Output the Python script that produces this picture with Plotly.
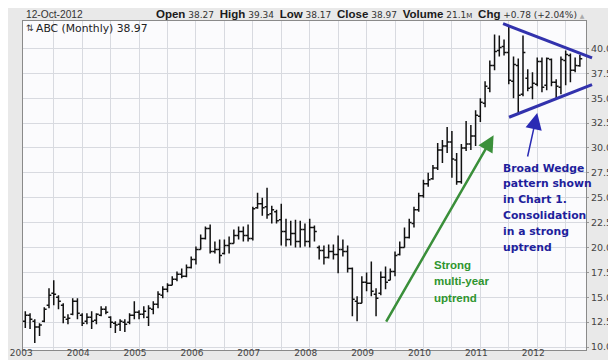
import plotly.graph_objects as go

# ---------------- data ----------------
years = [str(y) for y in range(2003, 2013)]
months = [f"{2003 + m // 12}-{m % 12 + 1:02d}" for m in range(118)]

opens = [12.6, 13.2, 12.6, 12.0, 12.6, 14.2, 15.4, 15.0, 14.2, 12.8, 13.3, 14.6,
         13.2, 12.6, 13.0, 12.7, 13.2, 13.8, 13.0, 12.4, 12.3, 12.5, 12.5, 13.2,
         13.5, 13.3, 13.0, 13.8, 14.3, 15.2, 15.8, 16.2, 16.8, 17.3, 17.1, 18.0,
         18.8, 19.8, 20.9, 21.9, 19.6, 19.8, 19.4, 20.2, 20.4, 21.2, 21.6, 21.2,
         20.9, 24.0, 24.4, 24.1, 23.4, 23.6, 22.8, 21.6, 20.8, 21.4, 20.6, 21.8,
         20.6, 22.0, 20.0, 19.7, 19.0, 19.6, 19.3, 19.8, 19.6, 17.9, 14.6, 14.4,
         16.5, 16.4, 15.3, 15.4, 17.0, 16.7, 17.6, 19.3, 20.0, 21.0, 22.4, 23.8,
         25.2, 26.4, 26.9, 28.0, 29.8, 30.2, 30.6, 28.8, 26.6, 30.0, 30.4, 31.2,
         33.2, 34.5, 36.0, 38.3, 39.8, 40.2, 39.6, 36.7, 38.3, 35.4, 37.0, 36.1,
         36.4, 38.7, 36.3, 38.9, 36.6, 36.1, 38.8, 39.3, 37.8, 38.27]
highs = [13.6, 13.4, 12.8, 12.4, 14.0, 15.9, 16.7, 15.2, 14.4, 13.3, 14.9, 14.9,
         13.4, 13.4, 13.6, 13.4, 14.1, 14.1, 13.1, 12.6, 12.8, 12.8, 13.4, 14.6,
         13.7, 14.1, 14.2, 14.6, 15.6, 16.1, 16.4, 17.1, 17.6, 17.9, 18.3, 19.1,
         20.1, 21.3, 22.1, 22.3, 20.6, 20.8, 20.8, 21.1, 21.8, 22.1, 22.1, 22.3,
         24.1, 25.5, 25.0, 26.0, 24.2, 23.8, 24.4, 22.9, 22.7, 22.8, 22.7, 22.4,
         22.9, 22.2, 20.2, 20.2, 20.3, 20.3, 21.2, 20.8, 20.2, 18.0, 15.1, 17.1,
         17.5, 18.6, 15.9, 17.6, 18.1, 17.9, 19.6, 20.6, 22.0, 22.9, 24.1, 25.5,
         26.8, 27.5, 28.3, 30.5, 30.8, 32.1, 31.7, 29.5, 30.4, 32.7, 32.3, 33.8,
         35.0, 36.7, 38.8, 41.4, 41.3, 40.9, 42.3, 39.2, 39.0, 41.3, 37.9, 37.6,
         39.1, 39.1, 39.1, 39.0, 36.9, 39.2, 39.8, 39.5, 39.1, 39.34]
lows = [11.9, 11.8, 10.4, 11.1, 12.5, 13.9, 14.2, 13.8, 12.4, 12.3, 13.2, 12.8,
        12.1, 12.3, 11.8, 12.3, 13.1, 13.3, 11.9, 11.4, 11.6, 11.5, 12.3, 12.8,
        12.8, 12.9, 12.1, 13.3, 13.9, 14.9, 15.5, 16.2, 16.6, 16.9, 17.0, 17.9,
        18.3, 19.8, 20.8, 19.4, 19.4, 18.4, 19.3, 19.4, 20.4, 20.8, 20.6, 20.6,
        20.7, 23.9, 23.2, 22.9, 22.4, 22.4, 20.2, 20.1, 20.2, 20.0, 20.0, 20.1,
        20.0, 20.6, 18.8, 18.3, 18.9, 18.8, 17.4, 19.1, 17.5, 13.1, 12.6, 14.4,
        15.6, 15.1, 13.1, 15.2, 15.8, 16.7, 17.1, 19.2, 20.0, 20.9, 22.0, 23.6,
        25.0, 26.1, 26.8, 27.8, 28.5, 29.5, 27.0, 26.3, 26.4, 29.7, 29.8, 30.2,
        32.6, 34.1, 35.6, 37.8, 39.2, 39.3, 36.4, 35.0, 33.5, 35.2, 35.7, 34.9,
        36.2, 35.6, 35.8, 36.2, 35.0, 35.4, 36.3, 36.6, 37.6, 38.17]
closes = [13.2, 12.8, 12.0, 12.2, 13.8, 15.2, 15.3, 14.6, 13.0, 12.9, 14.6, 13.4,
          12.4, 13.0, 12.6, 13.3, 13.8, 13.5, 12.5, 12.2, 12.6, 12.3, 13.2, 13.5,
          13.3, 13.6, 13.9, 14.3, 15.3, 15.8, 16.2, 16.8, 17.3, 17.1, 18.0, 18.8,
          19.8, 20.9, 21.9, 19.6, 19.8, 19.2, 20.2, 20.4, 21.2, 21.6, 21.2, 20.9,
          23.9, 24.4, 24.0, 23.3, 23.8, 22.7, 21.6, 20.8, 21.4, 20.6, 21.8, 20.6,
          22.0, 21.6, 19.7, 19.0, 19.6, 19.3, 19.8, 19.6, 17.9, 14.8, 14.4, 16.5,
          16.4, 15.6, 14.9, 17.0, 16.5, 17.6, 19.2, 20.0, 21.0, 22.5, 23.8, 25.2,
          26.4, 26.8, 28.0, 29.8, 30.2, 30.6, 28.9, 26.6, 30.0, 30.4, 31.2, 33.3,
          34.6, 36.2, 38.3, 39.7, 40.1, 39.6, 36.8, 38.4, 35.3, 39.6, 36.0, 36.5,
          38.7, 36.1, 39.0, 36.6, 36.2, 38.9, 39.4, 37.8, 38.3, 38.97]

price_ticks = [10.0, 12.5, 15.0, 17.5, 20.0, 22.5, 25.0, 27.5, 30.0, 32.5, 35.0, 37.5, 40.0]

header_date = "12-Oct-2012"
header_labels = ["Open", "High", "Low", "Close", "Volume", "Chg"]
header_values = ["38.27", "39.34", "38.17", "38.97",
                 "21.1<span style='font-size:7px'>M</span>", "+0.78 (+2.04%)"]
legend_text = "ABC (Monthly) 38.97"

# trend-line annotations (month index, price)
wedge_upper = [(100.8, 42.49), (119.56, 39.05)]
wedge_lower = [(102.05, 33.09), (119.56, 36.36)]
green_arrow = [(75.95, 12.41), (98.8, 31.28)]   # tail, head
blue_arrow = [(105.9, 28.99), (108.0, 33.52)]   # tail, head
green_lines = ["Strong", "multi-year", "uptrend"]
blue_lines = ["Broad Wedge", "pattern shown", "in Chart 1.", "Consolidation", "in a strong", "uptrend"]

# ---------------- geometry ----------------
W, H = 616, 360
L, R, T, B = 15, 38, 13, 18
X0, X1 = -0.485, 118.29
Y0, Y1 = 9.70, 42.76
PW, PH = W - L - R, H - T - B
PX_PER_MONTH = PW / (X1 - X0)

def fx(px):
    return (px - L) / PW

def fy(py):
    return (H - B - py) / PH

def dx(i):
    return (i - X0) / (X1 - X0)

def dy(v):
    return (v - Y0) / (Y1 - Y0)

x_idx = list(range(len(months)))

fig = go.Figure()
fig.add_trace(go.Ohlc(
    x=x_idx, open=opens, high=highs, low=lows, close=closes,
    text=months,
    increasing=dict(line=dict(color="#111111", width=1.5)),
    decreasing=dict(line=dict(color="#111111", width=1.5)),
    tickwidth=0.5, showlegend=False, hoverinfo="text+y",
))

year_pos = [12 * k for k in range(len(years))]
grid_pos = list(range(6, 118, 6))

fig.update_layout(
    width=W, height=H,
    margin=dict(l=L, r=R, t=T, b=B, pad=0, autoexpand=False),
    paper_bgcolor="#e9e9e9",
    plot_bgcolor="#fbfbfd",
    font=dict(family="DejaVu Sans", size=9, color="#444"),
    showlegend=False,
    xaxis=dict(
        range=[X0, X1], rangeslider=dict(visible=False),
        tickmode="array", tickvals=year_pos, ticktext=years,
        ticklabelshift=int(round(-0.84 * PX_PER_MONTH)),
        ticklabelstandoff=-6,
        showgrid=False, ticks="", ticklen=0, zeroline=False, automargin=False,
        tickfont=dict(family="DejaVu Sans", size=9, color="#444"),
        showline=True, mirror=True, linecolor="#8a8a8a", linewidth=1,
        minor=dict(tickmode="array", tickvals=grid_pos, showgrid=True,
                   gridcolor="#d8dae0", gridwidth=1, ticks="", ticklen=0),
    ),
    yaxis=dict(
        range=[Y0, Y1], side="right", automargin=False,
        tickmode="array", tickvals=price_ticks,
        ticktext=[f"{v:.1f}" for v in price_ticks],
        showgrid=True, gridcolor="#d8dae0", gridwidth=1, zeroline=False,
        ticks="outside", ticklen=2, tickcolor="#999",
        tickfont=dict(family="DejaVu Sans", size=9.5, color="#444"),
        showline=True, mirror=True, linecolor="#8a8a8a", linewidth=1,
    ),
)

ann = []
# header: date on the left, quote line to its right
ann.append(dict(x=fx(16), y=fy(6), xref="paper", yref="paper", text=header_date,
                showarrow=False, xanchor="left", yanchor="middle",
                font=dict(family="Liberation Sans", size=10.2, color="#333")))
NB = "\u00a0"
parts = []
for lab, val in zip(header_labels, header_values):
    parts.append(f"<b><span style='font-family:Liberation Sans;font-size:11.5px;color:#1a1a1a'>{lab}</span></b>{NB}{val}")
quote = (NB * 2).join(parts) + NB + "<span style='font-size:6px;color:#aaaaaa'>▲</span>"
ann.append(dict(x=fx(146), y=fy(6), xref="paper", yref="paper", text=quote,
                showarrow=False, xanchor="left", yanchor="middle",
                font=dict(family="DejaVu Sans", size=9, color="#333")))
# legend
ann.append(dict(x=fx(15.5), y=fy(20), xref="paper", yref="paper", text="⇅",
                showarrow=False, xanchor="left", yanchor="middle",
                font=dict(family="DejaVu Sans", size=9, color="#333")))
ann.append(dict(x=fx(25.5), y=fy(20), xref="paper", yref="paper", text=legend_text,
                showarrow=False, xanchor="left", yanchor="middle",
                font=dict(family="DejaVu Sans", size=10.8, color="#222")))
# green text
for k, t in enumerate(green_lines):
    ann.append(dict(x=fx(423.5), y=fy(257 + 16.3 * k), xref="paper", yref="paper",
                    text=f"<b>{t}</b>", showarrow=False, xanchor="left", yanchor="middle",
                    font=dict(family="Liberation Sans", size=11.5, color="#2f952f")))
# blue text
for k, t in enumerate(blue_lines):
    ann.append(dict(x=fx(492.5), y=fy(160 + 15.9 * k), xref="paper", yref="paper",
                    text=f"<b>{t}</b>", showarrow=False, xanchor="left", yanchor="middle",
                    font=dict(family="DejaVu Sans", size=10.8, color="#1f1f9c")))
# arrows
ann.append(dict(x=green_arrow[1][0], y=green_arrow[1][1], ax=green_arrow[0][0], ay=green_arrow[0][1],
                xref="x", yref="y", axref="x", ayref="y", text="", showarrow=True,
                arrowhead=2, arrowsize=1.3, arrowwidth=2.5, arrowcolor="#3a8f3a"))
ann.append(dict(x=blue_arrow[1][0], y=blue_arrow[1][1], ax=blue_arrow[0][0], ay=blue_arrow[0][1],
                xref="x", yref="y", axref="x", ayref="y", text="", showarrow=True,
                arrowhead=2, arrowsize=2.2, arrowwidth=1.5, arrowcolor="#2a2ab4"))
fig.update_layout(annotations=ann)

# wedge lines (paper refs so they may run past the plot edge like the reference)
for seg in (wedge_upper, wedge_lower):
    fig.add_shape(type="line", xref="paper", yref="paper",
                  x0=dx(seg[0][0]), y0=dy(seg[0][1]), x1=dx(seg[1][0]), y1=dy(seg[1][1]),
                  line=dict(color="#3232ad", width=3))

fig.write_html("out.html")
